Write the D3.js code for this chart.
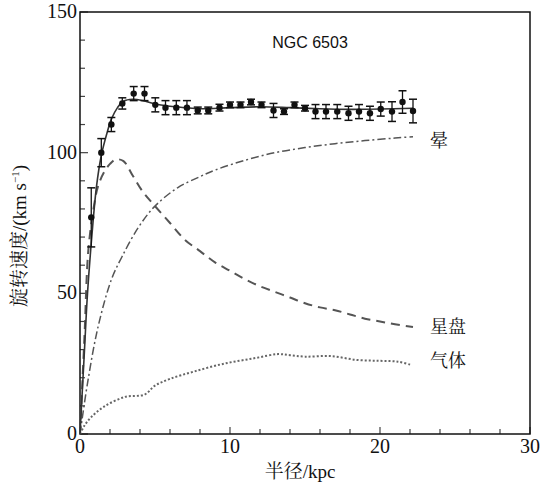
<!DOCTYPE html>
<html>
<head>
<meta charset="utf-8">
<script src="https://cdn.jsdelivr.net/npm/d3@7"></script>
<style>
  body { margin: 0; background: #fff; }
  .serif { font-family: 'Liberation Serif', 'Noto Serif CJK SC', serif; }
</style>
</head>
<body>
<svg id="chart" width="540" height="486"></svg>
<script>
// rotation curve of NGC 6503, observed points + model components

const serif = "'Liberation Serif', 'Noto Serif CJK SC', serif";

// observed points: radius (kpc), speed (km/s), error
const obsR = [0.75, 1.42, 2.09, 2.82, 3.58, 4.3, 5.02, 5.7, 6.42, 7.13, 7.85, 8.55, 9.3, 10.0, 10.7, 11.4,
  12.1, 12.9, 13.6, 14.3, 15.0, 15.7, 16.4, 17.15, 17.9, 18.6, 19.33, 20.05, 20.8, 21.5, 22.2];
const obsV = [77, 100, 110, 117.5, 121, 121, 117, 116, 116, 116, 115, 115, 116, 117, 117, 118,
  117, 115, 114.6, 117, 115.8, 114.6, 114.6, 114.6, 114, 114.6, 114, 115.5, 114.6, 118, 114.8];
const obsErr = [10.5, 5, 2.5, 2, 2.5, 2.5, 2.5, 2.5, 2.5, 2.5, 1.2, 1.2, 1.2, 1, 1, 1,
  1, 2.5, 1, 1, 1, 2.5, 2.5, 2.5, 2.5, 2.5, 2.5, 2.5, 3.5, 4, 4.2];

// model curves
const totalR = [0, 0.3, 0.5, 0.8, 1.1, 1.42, 1.8, 2.1, 2.5, 2.9, 3.5, 4.2, 5, 6, 7, 8, 10, 12, 14, 16, 18, 20, 22.2];
const totalV = [0, 30, 50, 71, 88, 99, 107, 112, 116, 118.3, 119, 118.5, 117.3, 116.5, 116, 115.6, 116, 116.3, 116, 115.6, 115.4, 115.5, 115.8];

const diskR = [0, 0.3, 0.55, 0.9, 1.2, 1.6, 2.0, 2.4, 2.9, 3.5, 4.2, 5, 6, 7, 8, 9, 10, 11, 12, 13, 14, 15, 16, 17, 18, 19, 20, 21, 22.2];
const diskV = [0, 35, 65, 80, 88, 93, 96, 97.6, 97, 92, 86, 81, 75, 69, 65, 61, 58, 55, 52.5, 50.5, 48.5, 46.5, 45, 44, 42.5, 41, 40, 39, 38];

const haloR = [0, 0.5, 1.2, 2.1, 2.8, 3.9, 5, 6.5, 8, 9, 11, 13, 15, 17, 19, 21, 22.2];
const haloV = [0, 18, 38, 55, 63, 73.5, 81, 87.5, 91.5, 93.8, 97.3, 100, 101.8, 103.2, 104.3, 105.2, 105.7];

const gasR = [0, 0.3, 0.75, 1.6, 3, 4.3, 5, 6, 7.6, 9.6, 11.6, 13.2, 14, 15, 16.7, 18.5, 20, 21.2, 22.1];
const gasV = [0, 3, 6, 9.7, 13.2, 14, 17.2, 19.6, 22.2, 25, 26.9, 28.4, 28, 27.5, 27.7, 26.3, 26, 25.7, 24.5];

const xTicks = [0, 10, 20, 30];
const yTicks = [0, 50, 100, 150];

const svg = d3.select("#chart");
const margin = { top: 12, right: 10, bottom: 52, left: 80 };
const width = 540 - margin.left - margin.right;
const height = 486 - margin.top - margin.bottom;
const g = svg.append("g").attr("transform", "translate(" + margin.left + "," + margin.top + ")");

const x = d3.scaleLinear().domain([0, 30]).range([0, width]);
const y = d3.scaleLinear().domain([0, 150]).range([height, 0]);

// minor ticks, pointing inward
const xMinor = d3.range(0, 31, 2);
g.selectAll(".xminor").data(xMinor).join("line")
  .attr("x1", d => x(d)).attr("x2", d => x(d))
  .attr("y1", height).attr("y2", d => d % 10 === 0 ? height - 7 : height - 5)
  .attr("stroke", "#444").attr("stroke-width", 1.2);

const yMinor = d3.range(0, 151, 10);
g.selectAll(".yminor").data(yMinor).join("line")
  .attr("x1", 0).attr("x2", d => d % 50 === 0 ? 8 : 5)
  .attr("y1", d => y(d)).attr("y2", d => y(d))
  .attr("stroke", "#444").attr("stroke-width", 1.2);

// frame
g.append("rect").attr("x", 0).attr("y", 0).attr("width", width).attr("height", height)
  .attr("fill", "none").attr("stroke", "#111").attr("stroke-width", 1.5);

// tick labels
g.selectAll(".xlab").data(xTicks).join("text")
  .attr("class", "serif")
  .attr("x", d => x(d)).attr("y", height + 19)
  .attr("text-anchor", "middle").style("font-size", "20px").attr("fill", "#111")
  .style("font-family", serif)
  .text(d => d);

g.selectAll(".ylab").data(yTicks).join("text")
  .attr("class", "serif")
  .attr("x", -3).attr("y", d => y(d) + 6)
  .attr("text-anchor", "end").style("font-size", "20px").attr("fill", "#111")
  .style("font-family", serif)
  .text(d => d);

// axis titles
g.append("text")
  .attr("class", "serif")
  .attr("x", width / 2 - 5).attr("y", height + 44)
  .attr("text-anchor", "middle").style("font-size", "19px").attr("fill", "#111")
  .style("font-family", serif)
  .text("半径/kpc");

const ytitle = svg.append("text")
  .attr("class", "serif")
  .attr("transform", "translate(26,236) rotate(-90)")
  .attr("text-anchor", "middle").style("font-size", "19px").attr("fill", "#111")
  .style("font-family", serif);
ytitle.append("tspan").text("旋转速度/(km s");
ytitle.append("tspan").attr("dy", -7).style("font-size", "11px").text("−1");
ytitle.append("tspan").attr("dy", 7).text(")");

const line = d3.line().curve(d3.curveCatmullRom.alpha(0.5));

const toPts = (rs, vs) => rs.map((r, i) => [x(r), y(vs[i])]);

// halo (dash-dot)
g.append("path").attr("d", line(toPts(haloR, haloV)))
  .attr("fill", "none").attr("stroke", "#555").attr("stroke-width", 1.5)
  .attr("stroke-dasharray", "8,3,2,3");

// disk (dashed)
g.append("path").attr("d", line(toPts(diskR, diskV)))
  .attr("fill", "none").attr("stroke", "#555").attr("stroke-width", 2)
  .attr("stroke-dasharray", "9,6");

// gas (dotted)
g.append("path").attr("d", line(toPts(gasR, gasV)))
  .attr("fill", "none").attr("stroke", "#666").attr("stroke-width", 2)
  .attr("stroke-dasharray", "2,2");

// total fit
g.append("path").attr("d", line(toPts(totalR, totalV)))
  .attr("fill", "none").attr("stroke", "#333").attr("stroke-width", 1.6);

// observed points with error bars
const obs = obsR.map((r, i) => ({ r: r, v: obsV[i], e: obsErr[i] }));
const pts = g.selectAll(".obs").data(obs).join("g");
pts.append("line")
  .attr("x1", d => x(d.r)).attr("x2", d => x(d.r))
  .attr("y1", d => y(d.v + d.e)).attr("y2", d => y(d.v - d.e))
  .attr("stroke", "#111").attr("stroke-width", 1.3);
pts.append("line")
  .attr("x1", d => x(d.r) - 4).attr("x2", d => x(d.r) + 4)
  .attr("y1", d => y(d.v + d.e)).attr("y2", d => y(d.v + d.e))
  .attr("stroke", "#111").attr("stroke-width", 1.5);
pts.append("line")
  .attr("x1", d => x(d.r) - 4).attr("x2", d => x(d.r) + 4)
  .attr("y1", d => y(d.v - d.e)).attr("y2", d => y(d.v - d.e))
  .attr("stroke", "#111").attr("stroke-width", 1.5);
pts.append("circle")
  .attr("cx", d => x(d.r)).attr("cy", d => y(d.v)).attr("r", 3.2)
  .attr("fill", "#111");

// labels
g.append("text").attr("x", 230).attr("y", 36)
  .attr("text-anchor", "middle").style("font-size", "16px").attr("fill", "#111")
  .style("font-family", "'Liberation Sans', Arial, sans-serif")
  .text("NGC 6503");

const compLabels = ["晕", "星盘", "气体"];
const compY = [106, 38, 26];
g.selectAll(".comp").data(compLabels).join("text")
  .attr("class", "serif")
  .attr("x", 350).attr("y", (d, i) => y(compY[i]) + 6 + (i === 0 ? 5 : 0))
  .style("font-size", "18px").attr("fill", "#111")
  .style("font-family", serif)
  .text(d => d);
</script>
</body>
</html>
